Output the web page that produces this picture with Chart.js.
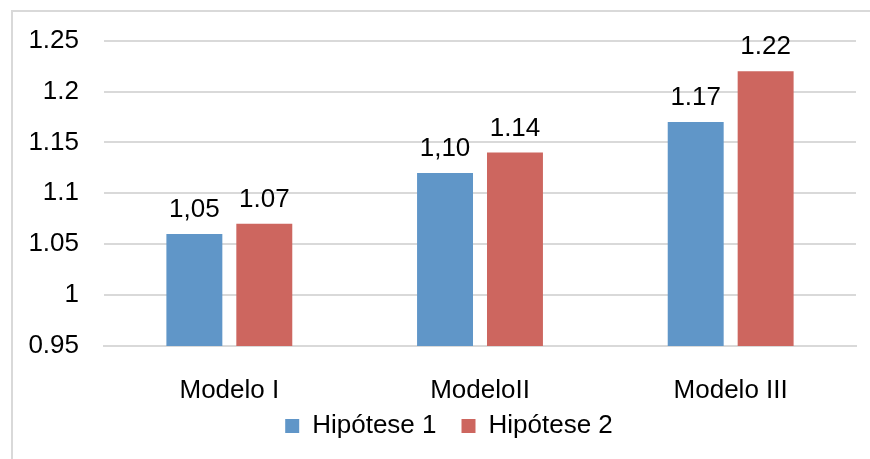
<!DOCTYPE html>
<html>
<head>
<meta charset="utf-8">
<script src="https://cdn.jsdelivr.net/npm/chart.js@4.4.1/dist/chart.umd.min.js"></script>
<style>
  html, body { margin: 0; padding: 0; background: #fff; overflow: hidden; }
  #wrap { position: relative; width: 870px; height: 459px; }
  #moldura { position: absolute; left: 11px; top: 10px; width: 2000px; height: 2000px; border: 2px solid #d9d9d9; box-sizing: border-box; }
  canvas { position: absolute; left: 0; top: 0; }
</style>
</head>
<body>
<div id="wrap">
  <div id="moldura"></div>
  <canvas id="grafico" width="870" height="459"></canvas>
</div>
<script>
// Dados
const categorias = ['Modelo I', 'ModeloII', 'Modelo III'];
const hipotese1 = [1.06, 1.12, 1.17];
const hipotese2 = [1.07, 1.14, 1.22];
// Rótulos escritos acima das barras (como no original, nem sempre iguais ao valor)
const rotulos1 = ['1,05', '1,10', '1.17'];
const rotulos2 = ['1.07', '1.14', '1.22'];
const rotulosEixoY = ['0.95', '1', '1.05', '1.1', '1.15', '1.2', '1.25'];

const fonte = "'Liberation Sans', Arial, sans-serif";
const cinza = '#d9d9d9';
const tam = 26;

// Plugin simples para escrever os rótulos acima das barras
const rotulosBarras = {
  id: 'rotulosBarras',
  afterDatasetsDraw(chart) {
    const ctx = chart.ctx;
    ctx.save();
    ctx.font = tam + 'px ' + fonte;
    ctx.fillStyle = '#000';
    ctx.textAlign = 'center';
    ctx.textBaseline = 'alphabetic';
    chart.data.datasets.forEach((ds, i) => {
      chart.getDatasetMeta(i).data.forEach((bar, j) => {
        ctx.fillText(ds.rotulos[j], bar.x, bar.y - 17);
      });
    });
    ctx.restore();
  },
};

// Sobe a legenda e a desloca um pouco para a direita, como no original
const ajusteLegenda = {
  id: 'ajusteLegenda',
  afterLayout(chart) {
    const l = chart.legend;
    l.top -= 18; l.bottom -= 18;
    l.left += 21; l.right += 21;
  },
};

new Chart(document.getElementById('grafico'), {
  type: 'bar',
  data: {
    labels: categorias,
    datasets: [
      { label: 'Hipótese 1', data: hipotese1, rotulos: rotulos1, backgroundColor: '#6096c8' },
      { label: 'Hipótese 2', data: hipotese2, rotulos: rotulos2, backgroundColor: '#cd665f' },
    ],
  },
  options: {
    responsive: false,
    animation: false,
    datasets: { bar: { categoryPercentage: 0.558, barPercentage: 0.8 } },
    layout: { padding: { left: 0, right: 14, top: 39, bottom: -8 } },
    plugins: {
      tooltip: { enabled: false },
      legend: {
        position: 'bottom',
        labels: {
          font: { family: fonte, size: tam },
          color: '#000',
          boxWidth: 14,
          boxHeight: 14,
          padding: 25,
        },
      },
    },
    scales: {
      x: {
        afterFit: (escala) => { escala.height = 60; },
        grid: { display: false, drawTicks: false },
        border: { color: cinza, width: 2 },
        ticks: { font: { family: fonte, size: tam }, color: '#000', padding: 29 },
      },
      y: {
        min: 0.95,
        max: 1.25,
        afterFit: (escala) => { escala.width = 104; },
        grid: { color: cinza, lineWidth: 2, drawTicks: false },
        border: { display: false },
        ticks: {
          stepSize: 0.05,
          font: { family: fonte, size: tam },
          color: '#000',
          padding: 25,
          callback: (v, i) => rotulosEixoY[i],
        },
      },
    },
  },
  plugins: [rotulosBarras, ajusteLegenda],
});
</script>
</body>
</html>
